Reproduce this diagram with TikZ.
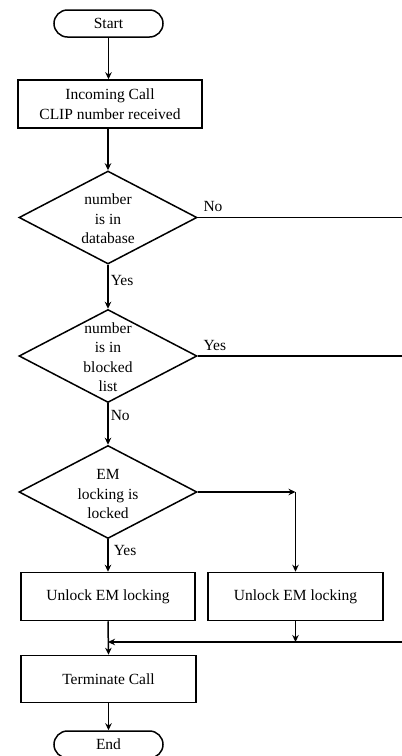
\documentclass[tikz,border=0pt]{standalone}
\usepackage{fontspec}
\setmainfont{Liberation Serif}
\usetikzlibrary{shapes.geometric,arrows.meta}
\begin{document}
\begin{tikzpicture}[x=1pt,y=-1pt, line width=1.5pt,
  >={Stealth[length=7pt,width=6.5pt]},
  font=\fontsize{15.5}{19.5}\selectfont,
  term/.style={draw, rounded corners=13.5pt, minimum width=109pt, minimum height=27pt, inner sep=0pt},
  proc/.style={draw, minimum height=48pt, inner sep=0pt, align=center},
  dia/.style={draw, diamond, minimum width=178pt, minimum height=93pt, inner sep=0pt},
  txt/.style={align=center, inner sep=0pt},
  lbl/.style={inner sep=2pt}]
\useasboundingbox (0,0) rectangle (402,756);
\node[term] (start) at (108.5,23.5) {Start};
\node[proc, minimum width=184pt] (in) at (110,104) {Incoming Call\\CLIP number received};
\node[dia] (d1) at (108,217.5) {};
\node[txt] (t1) at (108,219) {number\\is in\\database};
\node[dia] (d2) at (108,356) {};
\node[txt] (t2) at (108,357) {number\\is in\\blocked\\list};
\node[dia] (d3) at (108,492) {};
\node[txt] (t3) at (108,494) {EM\\locking is\\locked};
\node[proc, minimum width=174pt] (u1) at (108,596.5) {Unlock EM locking};
\node[proc, minimum width=175pt] (u2) at (295.5,596.5) {Unlock EM locking};
\node[proc, minimum width=175pt, minimum height=47pt] (tc) at (108.5,679) {Terminate Call};
\node[term] (end) at (108.5,744.5) {End};
\coordinate (r1) at (402,217.5);
\coordinate (r2) at (402,356);
\coordinate (r3) at (402,642);
\coordinate (k) at (u2.north |- d3.east);
\coordinate (j) at (u1.south |- r3);
\draw[->] (start.south) -- (start.south |- in.north);
\draw[->] (in.south -| d1.north) -- (d1.north);
\draw[->] (d1.south) -- node[lbl, right, pos=0.35] {Yes} (d2.north);
\draw[->] (d2.south) -- node[lbl, right, pos=0.3] {No} (d3.north);
\draw[->] (d3.south) -- node[lbl, right, pos=0.35, xshift=3pt] {Yes} (d3.south |- u1.north);
\draw (d1.east) -- node[lbl, pos=0, above right, xshift=3pt, yshift=3pt] {No} (r1);
\draw (d2.east) -- node[lbl, pos=0, above right, xshift=3pt, yshift=3pt] {Yes} (r2);
\draw[->] (d3.east) -- (k);
\draw[->] (k) -- (u2.north);
\draw[->] (u2.south) -- (u2.south |- r3);
\draw[->] (r3) -- (j);
\draw[->] (u1.south) -- (tc.north);
\draw[->] (tc.south) -- (end.north);
\end{tikzpicture}
\end{document}
